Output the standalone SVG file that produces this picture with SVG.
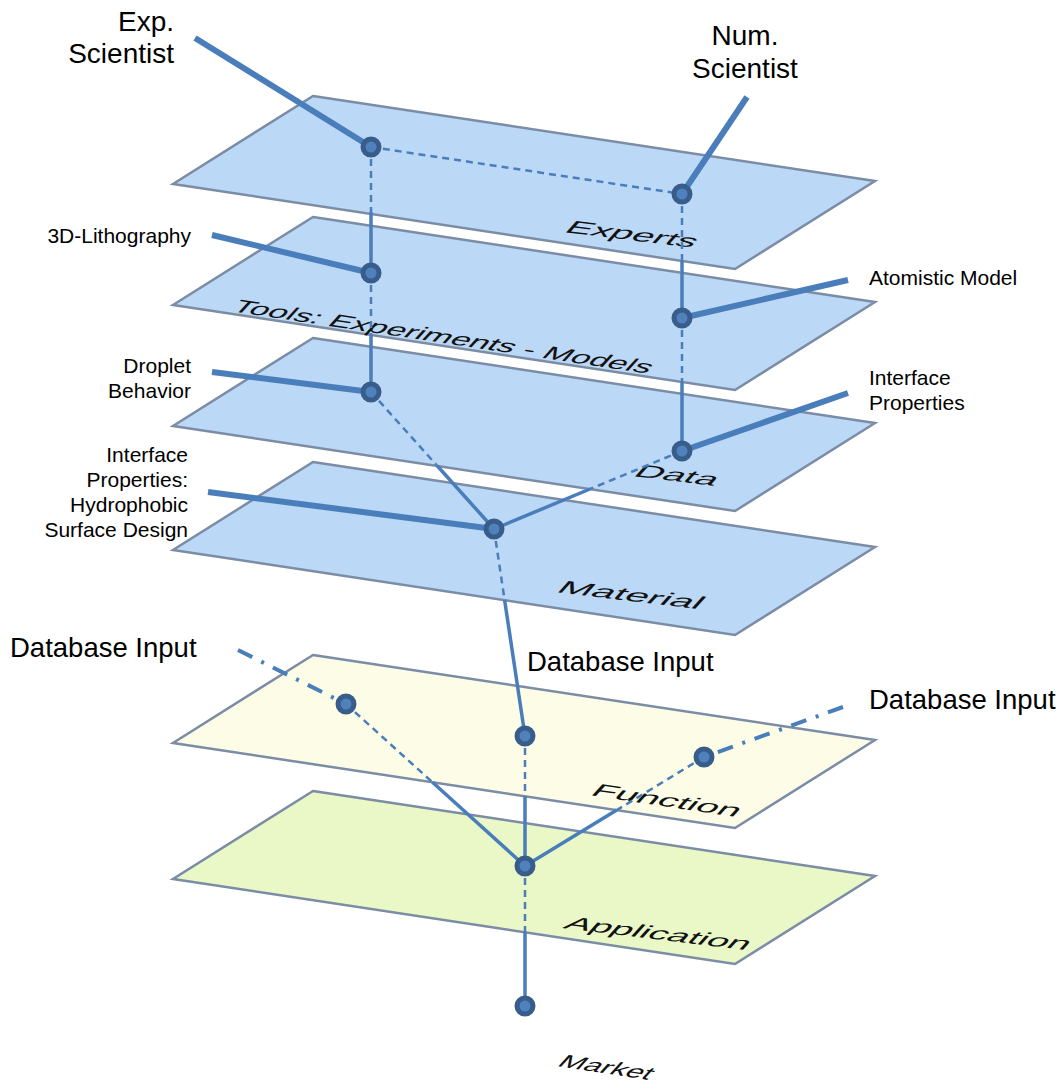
<svg xmlns="http://www.w3.org/2000/svg" width="1062" height="1089" viewBox="0 0 1062 1089">
<style>
.plane{stroke:#7b8ca5;stroke-width:2.5;stroke-linejoin:miter}
.blue{fill:#bcd8f7}
.func{fill:#fdfde7}
.app{fill:#eaf7c7}
.thick{stroke:#4a7ebb;stroke-width:6;fill:none}
.solid{stroke:#4a7ebb;stroke-width:3.5;fill:none}
.dash{stroke:#4a7ebb;stroke-width:2.5;fill:none;stroke-dasharray:7 5}
.dashdot{stroke:#4a7ebb;stroke-width:4;fill:none;stroke-dasharray:16 10 3 10}
.node{fill:#4f81bd;stroke:#385d8a;stroke-width:5}
.lbl{font-family:"Liberation Sans",Arial,sans-serif;fill:#000}
.big{font-size:28px}
.db{font-size:27.5px}
.sm{font-size:21px}
.pl{font-family:"Liberation Sans",Arial,sans-serif;font-size:30px;fill:#111}
</style>
<g id="planes">
<g id="plane-experts"><polygon class="plane blue" points="313,96 875,181 735,269 173,184"/><text class="pl" transform="matrix(1.27,0.153,-0.5,0.55,563,232)">Experts</text></g>
<g id="plane-tools"><polygon class="plane blue" points="313,217 875,302 735,390 173,305"/><text class="pl" transform="matrix(1.107,0.166,-0.5,0.55,230,311)">Tools: Experiments - Models</text></g>
<g id="plane-data"><polygon class="plane blue" points="313,338 875,423 735,511 173,426"/><text class="pl" transform="matrix(1.28,0.153,-0.5,0.55,632,476)">Data</text></g>
<g id="plane-material"><polygon class="plane blue" points="313,462 875,547 735,635 173,550"/><text class="pl" transform="matrix(1.34,0.16,-0.5,0.55,555,592)">Material</text></g>
<g id="plane-function"><polygon class="plane func" points="313,655 875,740 735,828 173,743"/><text class="pl" transform="matrix(1.275,0.19,-0.5,0.55,589,795)">Function</text></g>
<g id="plane-application"><polygon class="plane app" points="313,791 875,876 735,964 173,879"/><text class="pl" transform="matrix(1.25,0.15,-0.5,0.55,562,928)">Application</text></g>
<g id="plane-market"><text class="pl" transform="matrix(1.0,0.15,-0.5,0.55,556,1066)">Market</text></g>
</g>
<g id="connectors">
<line class="thick" x1="195" y1="38" x2="371" y2="147"/>
<line class="thick" x1="747" y1="97" x2="682" y2="194"/>
<line class="thick" x1="212" y1="235" x2="371" y2="273"/>
<line class="thick" x1="848" y1="280" x2="682" y2="318"/>
<line class="thick" x1="848" y1="393" x2="682" y2="451"/>
<line class="thick" x1="212" y1="372" x2="371" y2="392"/>
<line class="thick" x1="208" y1="492" x2="494" y2="529"/>
<line class="dash" x1="371" y1="147" x2="682" y2="194"/>
<line class="dash" x1="371" y1="147" x2="371" y2="212"/>
<line class="solid" x1="371" y1="212" x2="371" y2="273"/>
<line class="dash" x1="371" y1="273" x2="371" y2="335"/>
<line class="solid" x1="371" y1="335" x2="371" y2="392"/>
<line class="dash" x1="371" y1="392" x2="437.4" y2="466"/>
<line class="solid" x1="437.4" y1="466" x2="494" y2="529"/>
<line class="dash" x1="682" y1="194" x2="682" y2="261"/>
<line class="solid" x1="682" y1="261" x2="682" y2="318"/>
<line class="dash" x1="682" y1="318" x2="682" y2="382"/>
<line class="solid" x1="682" y1="382" x2="682" y2="451"/>
<line class="dash" x1="682" y1="451" x2="590" y2="489"/>
<line class="solid" x1="590" y1="489" x2="494" y2="529"/>
<line class="dash" x1="494" y1="529" x2="504.6" y2="600"/>
<line class="solid" x1="504.6" y1="600" x2="525" y2="736"/>
<line class="dash" x1="525" y1="736" x2="525" y2="796"/>
<line class="solid" x1="525" y1="796" x2="525" y2="866"/>
<line class="dash" x1="346" y1="704" x2="432.5" y2="782.3"/>
<line class="solid" x1="432.5" y1="782.3" x2="525" y2="866"/>
<line class="dash" x1="704" y1="757" x2="616.8" y2="810.1"/>
<line class="solid" x1="616.8" y1="810.1" x2="525" y2="866"/>
<line class="dash" x1="525" y1="866" x2="525" y2="932"/>
<line class="solid" x1="525" y1="932" x2="525" y2="1006"/>
<line class="dashdot" x1="238" y1="650" x2="346" y2="704"/>
<line class="dashdot" x1="843" y1="707" x2="704" y2="757"/>
</g>
<g id="nodes">
<g id="n-exp"><circle class="node" cx="371" cy="147" r="8"/></g>
<g id="n-num"><circle class="node" cx="682" cy="194" r="8"/></g>
<g id="n-litho"><circle class="node" cx="371" cy="273" r="8"/></g>
<g id="n-atom"><circle class="node" cx="682" cy="318" r="8"/></g>
<g id="n-droplet"><circle class="node" cx="371" cy="392" r="8"/></g>
<g id="n-iface"><circle class="node" cx="682" cy="451" r="8"/></g>
<g id="n-material"><circle class="node" cx="494" cy="529" r="8"/></g>
<g id="n-db-left"><circle class="node" cx="346" cy="704" r="8"/></g>
<g id="n-db-mid"><circle class="node" cx="525" cy="736" r="8"/></g>
<g id="n-db-right"><circle class="node" cx="704" cy="757" r="8"/></g>
<g id="n-app"><circle class="node" cx="525" cy="866" r="8"/></g>
<g id="n-market"><circle class="node" cx="525" cy="1006" r="8"/></g>
</g>
<g id="labels">
<text class="lbl big" x="174" y="31" text-anchor="end">Exp.</text>
<text class="lbl big" x="174" y="63" text-anchor="end">Scientist</text>
<text class="lbl big" x="745" y="45" text-anchor="middle">Num.</text>
<text class="lbl big" x="745" y="78" text-anchor="middle">Scientist</text>
<text class="lbl sm" x="191" y="243" text-anchor="end">3D-Lithography</text>
<text class="lbl sm" x="191" y="373" text-anchor="end">Droplet</text>
<text class="lbl sm" x="191" y="398" text-anchor="end">Behavior</text>
<text class="lbl sm" x="188" y="462" text-anchor="end">Interface</text>
<text class="lbl sm" x="188" y="487" text-anchor="end">Properties:</text>
<text class="lbl sm" x="188" y="512" text-anchor="end">Hydrophobic</text>
<text class="lbl sm" x="188" y="537" text-anchor="end">Surface Design</text>
<text class="lbl sm" x="869" y="285">Atomistic Model</text>
<text class="lbl sm" x="869" y="385">Interface</text>
<text class="lbl sm" x="869" y="410">Properties</text>
<text class="lbl db" x="10" y="657">Database Input</text>
<text class="lbl db" x="527" y="671">Database Input</text>
<text class="lbl db" x="869" y="709">Database Input</text>
</g>
</svg>
